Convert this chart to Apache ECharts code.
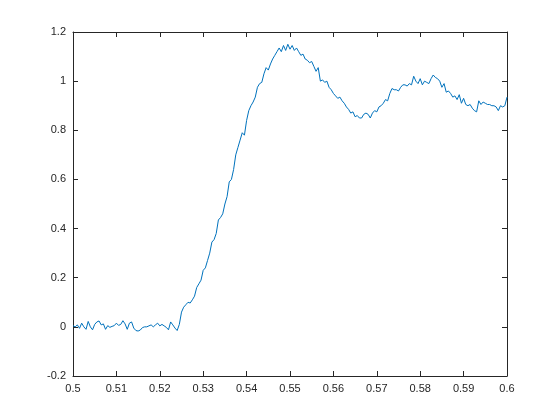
<!DOCTYPE html>
<html>
<head>
<meta charset="utf-8">
<script src="https://cdn.jsdelivr.net/npm/echarts@6/dist/echarts.min.js"></script>
<style>html,body{margin:0;padding:0;background:#fff}#c{width:560px;height:420px}</style>
</head>
<body>
<div id="c"></div>
<script>
// sampling grid
const tStart = 0.5;
const tStep = 0.0005;
// signal values (one every tStep from tStart)
const signal = [
  0.005, 0.0, 0.008, -0.006, 0.015, 0.0, -0.01, 0.022, 0.0, -0.012,
  0.01, 0.02, 0.024, 0.008, 0.012, -0.01, 0.005, -0.002, 0.002, 0.005,
  0.015, 0.006, 0.01, 0.025, 0.012, -0.01, 0.015, 0.02, -0.005, -0.015,
  -0.017, -0.013, -0.003, 0.0, 0.0, 0.004, 0.008, 0.0, 0.008, 0.015,
  0.004, 0.01, 0.004, -0.002, -0.012, 0.02, 0.008, -0.005, -0.015, 0.01,
  0.06, 0.08, 0.09, 0.1, 0.097, 0.11, 0.125, 0.16, 0.175, 0.19,
  0.23, 0.24, 0.27, 0.3, 0.345, 0.355, 0.38, 0.435, 0.445, 0.46,
  0.5, 0.53, 0.59, 0.6, 0.64, 0.7, 0.73, 0.76, 0.79, 0.78,
  0.84, 0.88, 0.9, 0.915, 0.935, 0.975, 0.99, 0.995, 1.03, 1.055,
  1.045, 1.07, 1.09, 1.105, 1.12, 1.135, 1.12, 1.145, 1.125, 1.15,
  1.13, 1.145, 1.125, 1.135, 1.12, 1.105, 1.11, 1.09, 1.085, 1.075,
  1.08, 1.06, 1.04, 1.055, 1.0, 1.005, 0.995, 1.0, 0.975, 0.965,
  0.95, 0.94, 0.93, 0.935, 0.92, 0.91, 0.895, 0.885, 0.87, 0.875,
  0.855, 0.86, 0.85, 0.85, 0.865, 0.87, 0.865, 0.85, 0.87, 0.88,
  0.875, 0.895, 0.9, 0.91, 0.925, 0.92, 0.95, 0.97, 0.965, 0.965,
  0.96, 0.975, 0.985, 0.985, 0.98, 0.99, 0.985, 1.02, 1.0, 0.99,
  1.01, 0.985, 1.0, 0.995, 0.99, 1.01, 1.025, 1.015, 1.01, 1.0,
  0.975, 0.99, 0.955, 0.96, 0.95, 0.935, 0.94, 0.925, 0.945, 0.91,
  0.93, 0.905, 0.9, 0.905, 0.89, 0.88, 0.875, 0.92, 0.905, 0.915,
  0.91, 0.905, 0.905, 0.9, 0.9, 0.895, 0.88, 0.9, 0.895, 0.9,
  0.935
];
const xMin = 0.5, xMax = 0.6, xInterval = 0.01;
const yMin = -0.2, yMax = 1.2, yInterval = 0.2;

const points = signal.map((v, i) => [Number((tStart + i * tStep).toFixed(4)), v]);

const axisColor = '#262626';
const font = 'Liberation Sans, Arial, Helvetica, sans-serif';
const chart = echarts.init(document.getElementById('c'), null, {renderer: 'canvas'});
const baseX = {
  type: 'value', min: xMin, max: xMax, interval: xInterval,
  axisLine: {show: true, onZero: false, lineStyle: {color: axisColor, width: 1}},
  axisTick: {show: true, inside: true, length: 5, lineStyle: {color: axisColor}},
  splitLine: {show: false}
};
const baseY = {
  type: 'value', min: yMin, max: yMax, interval: yInterval,
  axisLine: {show: true, onZero: false, lineStyle: {color: axisColor, width: 1}},
  axisTick: {show: true, inside: true, length: 5, lineStyle: {color: axisColor}},
  splitLine: {show: false}
};
chart.setOption({
  animation: false,
  backgroundColor: '#ffffff',
  grid: {left: 73, right: 53, top: 32, bottom: 44, containLabel: false},
  xAxis: [
    Object.assign({}, baseX, {position: 'bottom',
      axisLabel: {show: true, color: axisColor, fontSize: 11, fontFamily: font, margin: 7}}),
    Object.assign({}, baseX, {position: 'top', axisLabel: {show: false}})
  ],
  yAxis: [
    Object.assign({}, baseY, {position: 'left',
      axisLabel: {show: true, color: axisColor, fontSize: 11, fontFamily: font, margin: 7}}),
    Object.assign({}, baseY, {position: 'right', axisLabel: {show: false}})
  ],
  series: [{
    type: 'line', data: points, xAxisIndex: 0, yAxisIndex: 0,
    showSymbol: false, symbol: 'none', smooth: false,
    lineStyle: {color: '#0072BD', width: 1}
  }]
});
</script>
</body>
</html>
